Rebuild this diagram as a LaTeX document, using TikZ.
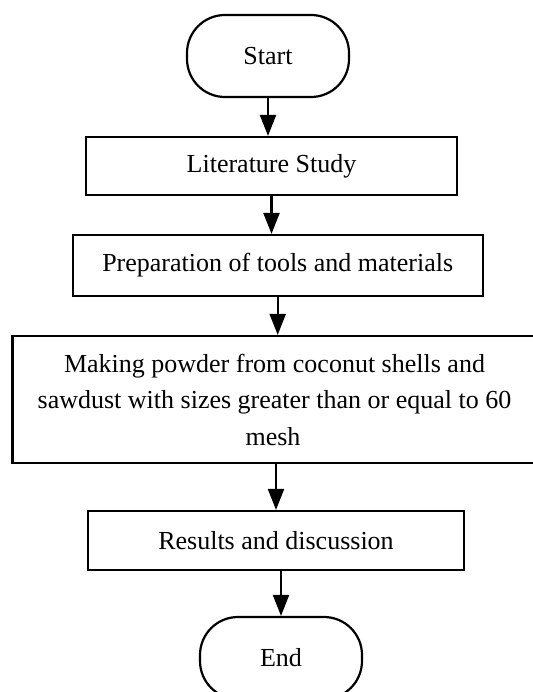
\documentclass[tikz,border=0pt]{standalone}
\usepackage{fontspec}
\setmainfont{Liberation Serif}
\usetikzlibrary{arrows.meta}

\begin{document}
\begin{tikzpicture}[
        x=1pt, y=-1pt,
        every node/.style={font=\fontsize{26}{36.5}\selectfont},
        term/.style={draw, line width=2.2pt, rounded corners=38pt,
            minimum width=162pt, minimum height=82pt},
        procbox/.style={draw, line width=2.2pt, inner sep=0pt, align=center},
        flow/.style={line width=2.2pt, -{Triangle[length=21pt,width=16pt]}}
    ]
    \useasboundingbox (0,0) rectangle (532,692);
    % steps
    \node[term] (start) at (268,56) {Start};
    \node[procbox, minimum width=371pt, minimum height=58pt] (lit) at (271.5,166) {Literature Study};
    \node[procbox, minimum width=410pt, minimum height=61pt] (prep) at (277.7,265.5) {Preparation of tools and materials};
    \node[procbox, minimum width=524pt, minimum height=127pt] (powder) at (274.5,399.5)
        {Making powder from coconut shells and\\sawdust with sizes greater than or equal to 60\\mesh\hspace*{3pt}};
    \node[procbox, minimum width=376pt, minimum height=59pt] (res) at (276,540.5) {Results and discussion};
    \node[term] (end) at (281,658) {End};
    % arrows
    \draw[flow] (start.south) -- (start.south |- lit.north);
    \draw[flow] (lit.south) -- (lit.south |- prep.north);
    \draw[flow] (prep.south) -- (prep.south |- powder.north);
    \draw[flow] (powder.south -| res.north) -- (res.north);
    \draw[flow] (res.south -| end.north) -- (end.north);
\end{tikzpicture}
\end{document}
